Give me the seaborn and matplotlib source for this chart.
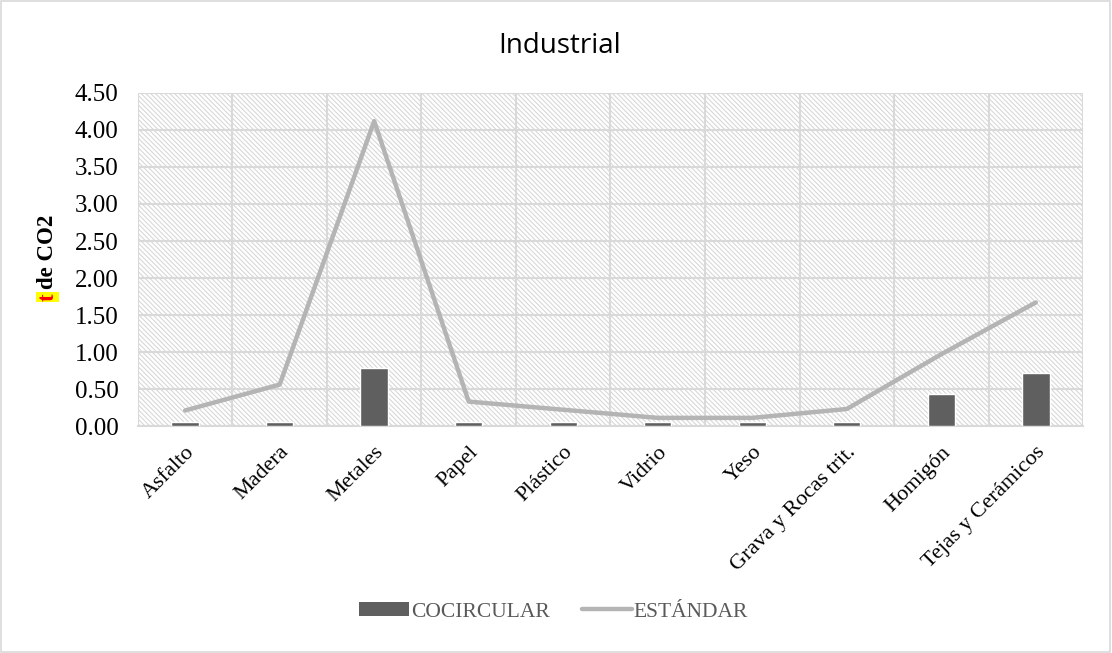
import numpy as np
import pandas as pd
import matplotlib
matplotlib.use("Agg")
import matplotlib.pyplot as plt
from matplotlib.patches import Rectangle, Patch
from matplotlib.lines import Line2D
import matplotlib.transforms as mtransforms
import seaborn as sns

categories = ["Asfalto", "Madera", "Metales", "Papel", "Plástico", "Vidrio",
              "Yeso", "Grava y Rocas trit.", "Homigón", "Tejas y Cerámicos"]
cocircular = [0.06, 0.06, 0.78, 0.06, 0.06, 0.06, 0.06, 0.06, 0.43, 0.71]
estandar = [0.21, 0.56, 4.12, 0.33, 0.22, 0.11, 0.11, 0.23, 0.97, 1.67]
yticks = [0.0, 0.5, 1.0, 1.5, 2.0, 2.5, 3.0, 3.5, 4.0, 4.5]

sns.set_theme(style="white")
plt.rcParams["font.family"] = ["Liberation Serif", "DejaVu Serif"]
plt.rcParams["hatch.linewidth"] = 0.8
plt.rcParams["hatch.color"] = "#d8d8d8"

BAR = "#5f5f5f"
LINE = "#b4b4b4"
GRID = "#d9d9d9"
TXT = "#000000"

fig = plt.figure(figsize=(11.12, 6.53), dpi=100)
ax = fig.add_axes([0.124, 0.3476, 0.850, 0.510])

# hatched plot background
ax.add_patch(Rectangle((0, 0), 1, 1, transform=ax.transAxes, facecolor="white",
                       edgecolor="#d8d8d8", hatch="\\" * 7, linewidth=0, zorder=0))

df = pd.DataFrame({"cat": categories, "co": cocircular, "st": estandar})
sns.barplot(data=df, x="cat", y="co", color=BAR, width=0.29, saturation=1,
            ax=ax, zorder=3, errorbar=None)
sns.lineplot(x=np.arange(len(categories)), y=estandar, color=LINE, linewidth=3.2,
             ax=ax, zorder=4)

ax.set_xlim(-0.5, len(categories) - 0.5)
ax.set_ylim(0, 4.5)
ax.set_yticks(yticks)
ax.set_yticklabels([f"{v:.2f}" for v in yticks], fontsize=18, color=TXT)
ax.set_xticks(np.arange(len(categories)))
ax.set_xticklabels(categories, rotation=45, ha="right", va="top",
                   rotation_mode="anchor", fontsize=16, color=TXT)
shift = mtransforms.ScaledTranslation(6 / 100, 0, fig.dpi_scale_trans)
for lab in ax.get_xticklabels():
    lab.set_transform(lab.get_transform() + shift)
ax.set_xticks(np.arange(-0.5, len(categories), 1.0), minor=True)
ax.tick_params(axis="x", which="major", length=0, pad=12)
ax.tick_params(axis="x", which="minor", length=8, color=GRID, width=1.2)
ax.tick_params(axis="y", length=0, pad=14)

ax.set_axisbelow(True)
ax.grid(axis="y", which="major", color=GRID, linewidth=1.5, zorder=1)
ax.grid(axis="x", which="minor", color=GRID, linewidth=1.5, zorder=1)
ax.grid(axis="x", which="major", visible=False)
for s in ["top", "left", "right"]:
    ax.spines[s].set_visible(False)
ax.spines["bottom"].set_color(GRID)
ax.spines["bottom"].set_linewidth(1.5)
ax.set_xlabel("")
ax.set_ylabel("")

# y-axis label: highlighted "t" followed by "de CO2"
fig.text(0.043, 0.545, "t", rotation=90, color="#ff0000", fontsize=16.5,
         fontweight="bold", ha="center", va="center",
         bbox=dict(boxstyle="square,pad=0.05", facecolor="#ffff00", edgecolor="none"))
fig.text(0.043, 0.557, "de CO2", rotation=90, color=TXT, fontsize=16.5,
         fontweight="bold", ha="center", va="bottom")

fig.text(0.503, 0.929, "Industrial", fontsize=20, ha="center", va="center",
         family=["Open Sans", "DejaVu Sans"], color="#000000")

handles = [Patch(facecolor=BAR, edgecolor="none"),
           Line2D([0], [0], color=LINE, linewidth=3.2)]
fig.legend(handles, ["COCIRCULAR", "ESTÁNDAR"], loc="center", bbox_to_anchor=(0.498, 0.063),
           ncol=2, frameon=False, fontsize=15.5, labelcolor="#595959",
           handlelength=2.3, handleheight=0.6, handletextpad=0.1, columnspacing=1.5)

# chart border
fig.add_artist(Rectangle((0.001, 0.002), 0.997, 0.996, transform=fig.transFigure,
                         fill=False, edgecolor=GRID, linewidth=1.2))

fig.savefig("out.png", dpi=100)
